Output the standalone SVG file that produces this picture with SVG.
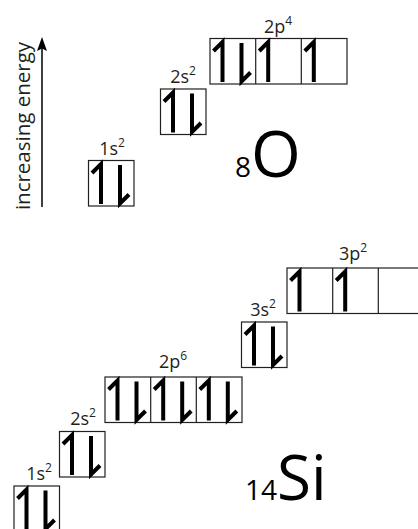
<svg xmlns="http://www.w3.org/2000/svg" xmlns:xlink="http://www.w3.org/1999/xlink" width="418" height="529" viewBox="0 0 418 529">
<style>
.box{fill:none;stroke:#231f20;stroke-width:1.2}
.hp{fill:none;stroke:#000;stroke-width:4;stroke-linejoin:miter;stroke-linecap:butt}
.lbl{font-family:"Open Sans","Noto Sans",sans-serif;font-size:18px;fill:#231f20;text-anchor:middle}
.sup{font-size:12px}
.el{font-family:"Open Sans","Noto Sans",sans-serif;fill:#000}
.axis{font-family:"Open Sans","Noto Sans",sans-serif;font-size:20.5px;fill:#231f20;text-anchor:middle}
</style>
<defs>
<path id="up" class="hp" d="M3.5,12.5 L12.5,3.5 L12.5,43.5"/>
<path id="dn" class="hp" d="M31.5,4.5 L31.5,43 L40.5,34"/>
</defs>

<g id="axis">
<line x1="42" y1="207" x2="42" y2="44" stroke="#000" stroke-width="1.5"/>
<path d="M42,37 L47,51 L42,48.5 L37,51 z" fill="#000"/>
<text class="axis" transform="translate(30,126) rotate(-90)">increasing energy</text>
</g>

<g id="O-1s">
<rect class="box" x="88.5" y="160.5" width="45.5" height="45.5"/>
<use href="#up" x="88.5" y="160.5"/><use href="#dn" x="88.5" y="160.5"/>
<text class="lbl" x="112" y="154.5">1s<tspan class="sup" dy="-7.5">2</tspan></text>
</g>
<g id="O-2s">
<rect class="box" x="160.5" y="89" width="45.5" height="45.5"/>
<use href="#up" x="160.5" y="89"/><use href="#dn" x="160.5" y="89"/>
<text class="lbl" x="183" y="82.5">2s<tspan class="sup" dy="-7.5">2</tspan></text>
</g>
<g id="O-2p">
<rect class="box" x="210" y="38.5" width="137" height="45.5"/>
<line class="box" x1="255.7" y1="38.5" x2="255.7" y2="84"/>
<line class="box" x1="301.3" y1="38.5" x2="301.3" y2="84"/>
<use href="#up" x="210" y="38.5"/><use href="#dn" x="210" y="38.5"/>
<use href="#up" x="255.7" y="38.5"/>
<use href="#up" x="301.3" y="38.5"/>
<text class="lbl" x="278" y="32.5">2p<tspan class="sup" dy="-7.5">4</tspan></text>
</g>
<g id="O-symbol">
<text class="el" x="235" y="176.5"><tspan font-size="28">8</tspan><tspan font-size="64">O</tspan></text>
</g>

<g id="Si-1s">
<rect class="box" x="14" y="486" width="45.5" height="45.5"/>
<use href="#up" x="14" y="486"/><use href="#dn" x="14" y="486"/>
<text class="lbl" x="39" y="479.5">1s<tspan class="sup" dy="-7.5">2</tspan></text>
</g>
<g id="Si-2s">
<rect class="box" x="59.5" y="431.5" width="45.5" height="45.5"/>
<use href="#up" x="59.5" y="431.5"/><use href="#dn" x="59.5" y="431.5"/>
<text class="lbl" x="83" y="424.5">2s<tspan class="sup" dy="-7.5">2</tspan></text>
</g>
<g id="Si-2p">
<rect class="box" x="105" y="377" width="137" height="45.5"/>
<line class="box" x1="150.7" y1="377" x2="150.7" y2="422.5"/>
<line class="box" x1="196.3" y1="377" x2="196.3" y2="422.5"/>
<use href="#up" x="105" y="377"/><use href="#dn" x="105" y="377"/>
<use href="#up" x="150.7" y="377"/><use href="#dn" x="150.7" y="377"/>
<use href="#up" x="196.3" y="377"/><use href="#dn" x="196.3" y="377"/>
<text class="lbl" x="173" y="367.5">2p<tspan class="sup" dy="-7.5">6</tspan></text>
</g>
<g id="Si-3s">
<rect class="box" x="241.5" y="322" width="45.5" height="45.5"/>
<use href="#up" x="241.5" y="322"/><use href="#dn" x="241.5" y="322"/>
<text class="lbl" x="263" y="315.5">3s<tspan class="sup" dy="-7.5">2</tspan></text>
</g>
<g id="Si-3p">
<rect class="box" x="287" y="268" width="137" height="45.5"/>
<line class="box" x1="332.7" y1="268" x2="332.7" y2="313.5"/>
<line class="box" x1="378.3" y1="268" x2="378.3" y2="313.5"/>
<use href="#up" x="287" y="268"/>
<use href="#up" x="332.7" y="268"/>
<text class="lbl" x="353" y="259.5">3p<tspan class="sup" dy="-7.5">2</tspan></text>
</g>
<g id="Si-symbol">
<text class="el" x="245" y="500"><tspan font-size="28">14</tspan><tspan font-size="62">Si</tspan></text>
</g>
</svg>
